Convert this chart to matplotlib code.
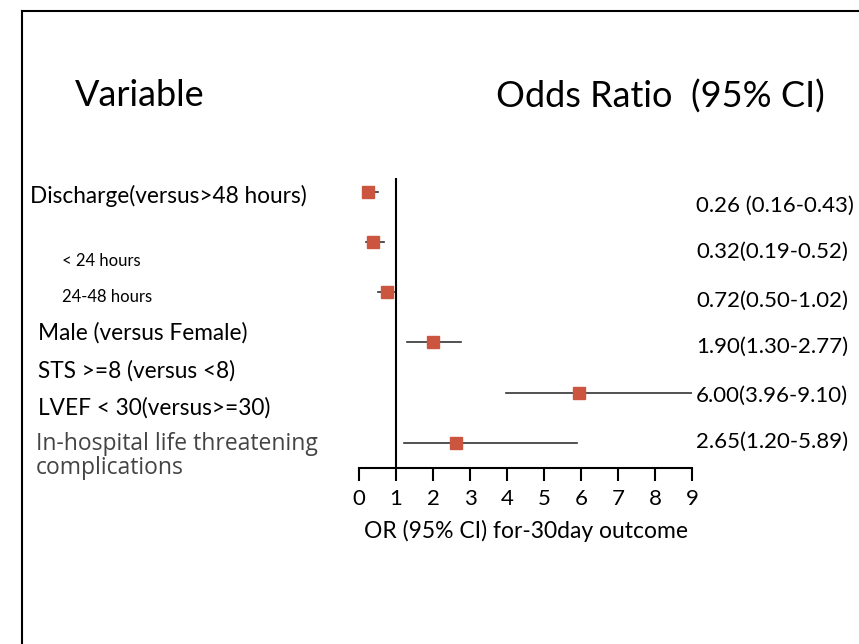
import matplotlib.pyplot as plt
from matplotlib.lines import Line2D

# data
variables = ["Discharge(versus>48 hours)", "< 24 hours", "24-48 hours",
             "Male (versus Female)", "STS >=8 (versus <8)",
             "LVEF < 30(versus>=30)",
             "In-hospital life threatening\ncomplications"]
or_labels = ["0.26 (0.16-0.43)", "0.32(0.19-0.52)", "0.72(0.50-1.02)",
             "1.90(1.30-2.77)", "6.00(3.96-9.10)", "2.65(1.20-5.89)"]
est = [0.25, 0.39, 0.77, 2.0, 5.95, 2.61]
lo = [0.16, 0.2, 0.52, 1.29, 3.96, 1.22]
hi = [0.5, 0.68, 1.0, 2.75, 9.0, 5.88]
rows = [0, 1, 2, 3, 4, 5]
xticks = [0, 1, 2, 3, 4, 5, 6, 7, 8, 9]

W, H = 859, 644
fig = plt.figure(figsize=(W / 100, H / 100), dpi=100)
plt.rcParams['font.family'] = ['Lato', 'DejaVu Sans']

def fx(px):
    return px / W

def fy(py):
    return 1 - py / H

# frame around the figure (top and left visible)
fig.add_artist(Line2D([fx(22), 1], [fy(11), fy(11)], color='black', lw=1.5))
fig.add_artist(Line2D([fx(22), fx(22)], [fy(11), 0], color='black', lw=1.5))

ax = fig.add_axes([fx(359), fy(468), fx(692) - fx(359), fy(178) - fy(468)])
for i in range(len(rows)):
    ax.plot([lo[i], hi[i]], [rows[i], rows[i]], color='#333333', lw=1.2)
ax.plot(est, rows, 's', color='#cc5540', markersize=9, zorder=3)
ax.axvline(1, color='black', lw=1.5)

ax.set_xlim(0, 9)
ax.set_ylim(5.5, -0.27)
ax.set_xticks(xticks)
ax.set_yticks([])
for s in ['top', 'right', 'left']:
    ax.spines[s].set_visible(False)
ax.spines['bottom'].set_linewidth(1.5)
ax.tick_params(axis='x', length=9, width=1.5, labelsize=16, pad=6)
ax.set_xlabel("OR (95% CI) for-30day outcome", fontsize=16.5, labelpad=8)
ax.patch.set_alpha(0)

# headers
fig.text(fx(75), fy(95), "Variable", fontsize=26, va='center', ha='left')
fig.text(fx(496), fy(97), "Odds Ratio  (95% CI)", fontsize=26, va='center', ha='left')

# left labels
lab_x = [30, 62, 62, 38, 38, 38, 36]
lab_y = [196, 261, 297, 333, 371, 408, 456]
lab_fs = [16.3, 12, 12, 16.3, 16.3, 16.3, 16.5]
for i, t in enumerate(variables):
    col = '#444444' if i == 6 else 'black'
    fam = ['Open Sans', 'DejaVu Sans'] if i == 6 else ['Lato', 'DejaVu Sans']
    fig.text(fx(lab_x[i]), fy(lab_y[i]), t, fontsize=lab_fs[i], va='center',
             ha='left', color=col, family=fam, linespacing=1.0)

# right labels
or_y = [206, 252, 301, 347, 396, 442]
for t, yy in zip(or_labels, or_y):
    fig.text(fx(696), fy(yy), t, fontsize=16, va='center', ha='left')

plt.savefig('out.png', dpi=100)
